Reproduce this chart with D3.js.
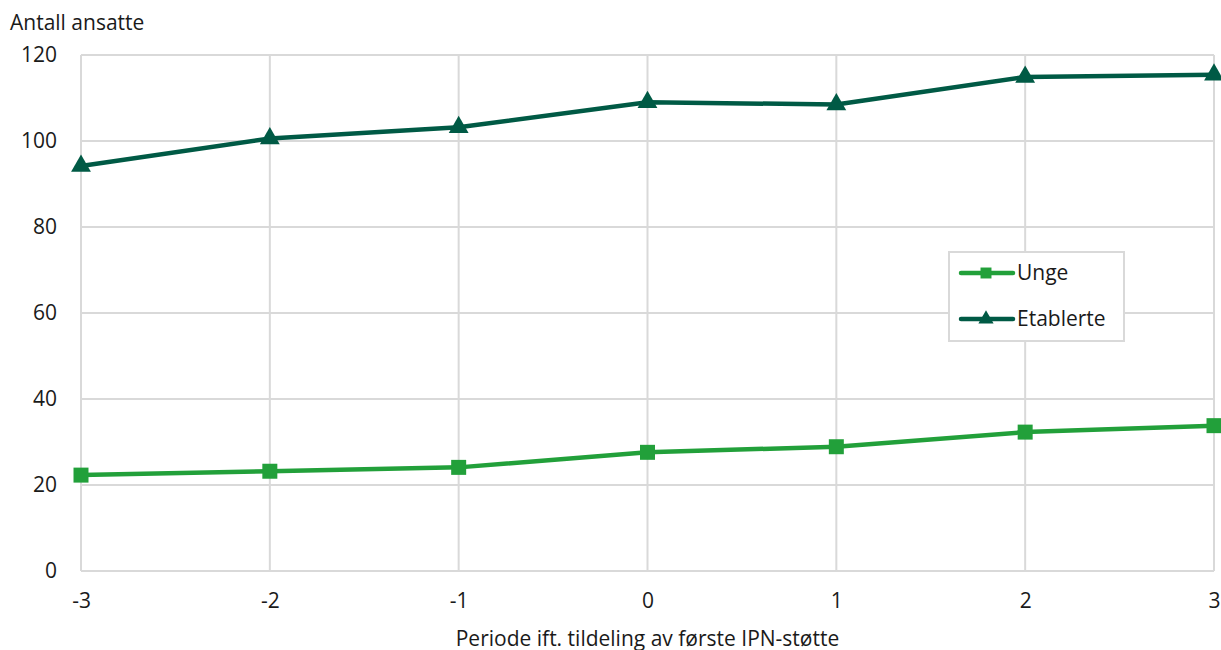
<!DOCTYPE html>
<html><head><meta charset="utf-8">
<script src="https://cdn.jsdelivr.net/npm/d3@7"></script>
<style>body{margin:0;background:#fff}svg{display:block;font-family:"Open Sans",sans-serif}</style>
</head><body><svg id="c" width="1221" height="650"></svg>
<script>
const periods = [-3, -2, -1, 0, 1, 2, 3];
const unge = [22.3, 23.2, 24.1, 27.6, 28.9, 32.3, 33.8];
const etablerte = [94.2, 100.6, 103.2, 109.0, 108.5, 114.9, 115.4];
const yTicks = [0, 20, 40, 60, 80, 100, 120];
const seriesNames = ["Unge", "Etablerte"];
const seriesColors = ["#22a03a", "#005a45"];

const svg = d3.select("#c");
const m = {l: 81, r: 1214, t: 55, b: 571};
const x = d3.scaleLinear().domain([-3, 3]).range([m.l, m.r]);
const y = d3.scaleLinear().domain([0, 120]).range([m.b, m.t]);
const grid = "#d9d9d9";
const fs = 21;
const txt = "#1a1a1a";

svg.append("g").selectAll("line").data(yTicks).join("line")
  .attr("x1", m.l).attr("x2", m.r).attr("y1", d => y(d)).attr("y2", d => y(d))
  .attr("stroke", grid).attr("stroke-width", 2);
svg.append("g").selectAll("line").data(periods).join("line")
  .attr("x1", d => x(d)).attr("x2", d => x(d)).attr("y1", m.t).attr("y2", m.b)
  .attr("stroke", grid).attr("stroke-width", 2);

const yAxis = d3.axisLeft(y).tickValues(yTicks).tickSize(0).tickPadding(24);
const ga = svg.append("g").attr("transform", `translate(${m.l},0)`).call(yAxis);
ga.select(".domain").remove();
ga.selectAll("text").attr("font-size", fs).attr("fill", txt).attr("font-family", '"Open Sans",sans-serif');
const xAxis = d3.axisBottom(x).tickValues(periods).tickSize(0).tickPadding(22).tickFormat(d => String(d));
const gx = svg.append("g").attr("transform", `translate(0,${m.b})`).call(xAxis);
gx.select(".domain").remove();
gx.selectAll("text").attr("font-size", fs).attr("fill", txt).attr("font-family", '"Open Sans",sans-serif');

svg.append("text").attr("x", 10).attr("y", 30).attr("font-size", fs).attr("fill", txt).text("Antall ansatte");
svg.append("text").attr("x", x(0)).attr("y", 646).attr("text-anchor", "middle").attr("font-size", fs).attr("fill", txt).text("Periode ift. tildeling av første IPN-støtte");

const line = d3.line().x((d, i) => x(periods[i])).y(d => y(d));
const data = [unge, etablerte];
data.forEach((vals, k) => {
  svg.append("path").datum(vals).attr("d", line).attr("fill", "none")
    .attr("stroke", seriesColors[k]).attr("stroke-width", 4.5).attr("stroke-linejoin", "round");
  const sym = k === 0 ? d3.symbolSquare : d3.symbolTriangle;
  const size = k === 0 ? 225 : 170;
  svg.append("g").selectAll("path").data(vals).join("path")
    .attr("transform", (d, i) => `translate(${x(periods[i])},${y(d)})`)
    .attr("d", d3.symbol().type(sym).size(size)).attr("fill", seriesColors[k]);
});

const lg = svg.append("g");
lg.append("rect").attr("x", 949).attr("y", 252).attr("width", 175).attr("height", 89)
  .attr("fill", "#fff").attr("stroke", grid).attr("stroke-width", 2);
seriesNames.forEach((n, k) => {
  const yy = 273 + k * 46;
  lg.append("line").attr("x1", 961).attr("x2", 1013).attr("y1", yy).attr("y2", yy)
    .attr("stroke", seriesColors[k]).attr("stroke-width", 4.5).attr("stroke-linecap", "round");
  lg.append("path").attr("transform", `translate(986,${yy})`)
    .attr("d", d3.symbol().type(k === 0 ? d3.symbolSquare : d3.symbolTriangle).size(k === 0 ? 120 : 100))
    .attr("fill", seriesColors[k]);
  lg.append("text").attr("x", 1017).attr("y", yy + 7).attr("font-size", fs).attr("fill", txt).text(n);
});
</script></body></html>
